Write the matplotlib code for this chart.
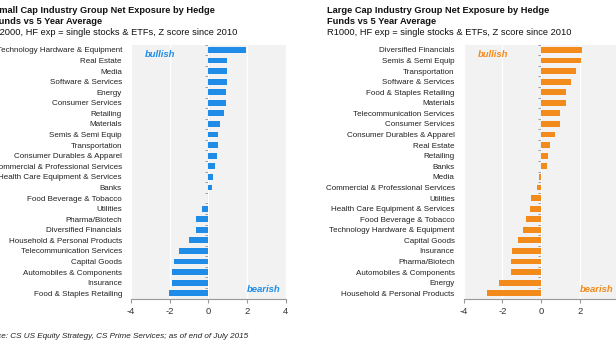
import numpy as np
import matplotlib.pyplot as plt

plt.rcParams['font.family'] = ['Liberation Sans', 'DejaVu Sans']

# small cap (R2000) z scores, top to bottom
small_labels = ['Technology Hardware & Equipment', 'Real Estate', 'Media',
                'Software & Services', 'Energy', 'Consumer Services', 'Retailing',
                'Materials', 'Semis & Semi Equip', 'Transportation',
                'Consumer Durables & Apparel', 'Commercial & Professional Services',
                'Health Care Equipment & Services', 'Banks', 'Food Beverage & Tobacco',
                'Utilities', 'Pharma/Biotech', 'Diversified Financials',
                'Household & Personal Products', 'Telecommunication Services',
                'Capital Goods', 'Automobiles & Components', 'Insurance',
                'Food & Staples Retailing']
small_vals = [1.96, 0.96, 0.96, 0.96, 0.93, 0.90, 0.80, 0.60, 0.48, 0.48, 0.46,
              0.34, 0.24, 0.19, -0.03, -0.31, -0.64, -0.64, -1.01, -1.51, -1.79,
              -1.86, -1.87, -2.03]

# large cap (R1000) z scores, top to bottom
large_labels = ['Diversified Financials', 'Semis & Semi Equip', 'Transportation',
                'Software & Services', 'Food & Staples Retailing', 'Materials',
                'Telecommunication Services', 'Consumer Services',
                'Consumer Durables & Apparel', 'Real Estate', 'Retailing', 'Banks',
                'Media', 'Commercial & Professional Services', 'Utilities',
                'Health Care Equipment & Services', 'Food Beverage & Tobacco',
                'Technology Hardware & Equipment', 'Capital Goods', 'Insurance',
                'Pharma/Biotech', 'Automobiles & Components', 'Energy',
                'Household & Personal Products']
large_vals = [2.10, 2.07, 1.83, 1.53, 1.31, 1.29, 0.96, 0.96, 0.70, 0.48, 0.38,
              0.29, -0.12, -0.19, -0.52, -0.55, -0.76, -0.91, -1.17, -1.51, -1.53,
              -1.56, -2.18, -2.77]

x_ticks = [-4, -2, 0, 2, 4]

W, H = 616, 346
fig = plt.figure(figsize=(W / 100, H / 100), dpi=100)


def panel(left_px, labels, vals, color):
    ax = fig.add_axes([left_px / W, 47.4 / H, 154.7 / W, 254 / H])
    ax.set_facecolor('#f2f2f2')
    y = np.arange(len(labels))
    ax.barh(y, vals, height=0.55, color=color, zorder=3)
    ax.set_xlim(-4, 4)
    ax.set_ylim(len(labels) - 0.5, -0.5)
    ax.set_xticks(x_ticks)
    ax.set_xticklabels([str(t) for t in x_ticks], fontsize=6.8, color='#333333')
    ax.set_yticks(y)
    ax.set_yticklabels(labels, fontsize=5.8, color='#222222')
    ax.tick_params(axis='y', length=0, pad=6.5)
    ax.tick_params(axis='x', length=3, color='#999999', pad=3)
    ax.grid(axis='x', color='white', linewidth=0.9, zorder=0)
    for s in ['top', 'right', 'left']:
        ax.spines[s].set_visible(False)
    ax.spines['bottom'].set_color('#999999')
    ax.spines['bottom'].set_linewidth(0.8)

    # zero line with category ticks
    zax = ax.secondary_yaxis(0, transform=ax.transData)
    zax.set_yticks(np.arange(len(labels) + 1) - 0.5)
    zax.set_yticklabels([])
    zax.tick_params(length=2.5, color='#999999', width=0.7)
    zax.spines['left'].set_color('#999999')
    zax.spines['left'].set_linewidth(0.8)

    ax.text(-2.5, 0.4, 'bullish', color=color, fontsize=6.8, fontweight='bold',
            style='italic', ha='center', va='center')
    ax.text(2.85, 22.6, 'bearish', color=color, fontsize=6.8, fontweight='bold',
            style='italic', ha='center', va='center')
    return ax


panel(131, small_labels, small_vals, '#1f8de8')
panel(463.7, large_labels, large_vals, '#f28a1c')


def titles(x_px, line1, line2, sub):
    fig.text(x_px / W, 1 - 10.5 / H, line1, fontsize=6.7, fontweight='bold',
             va='center', ha='left', color='#111111')
    fig.text(x_px / W, 1 - 21.5 / H, line2, fontsize=6.7, fontweight='bold',
             va='center', ha='left', color='#111111')
    fig.text(x_px / W, 1 - 32.5 / H, sub, fontsize=6.7, va='center', ha='left',
             color='#111111')


titles(-7, 'Small Cap Industry Group Net Exposure by Hedge',
       'Funds vs 5 Year Average',
       'R2000, HF exp = single stocks & ETFs, Z score since 2010')
titles(327, 'Large Cap Industry Group Net Exposure by Hedge',
       'Funds vs 5 Year Average',
       'R1000, HF exp = single stocks & ETFs, Z score since 2010')

fig.text(248 / W, 1 - 336.5 / H,
         'Source: CS US Equity Strategy, CS Prime Services; as of end of July 2015',
         fontsize=5.9, style='italic', ha='right', va='center', color='#222222')

fig.savefig('out.png', dpi=100)
